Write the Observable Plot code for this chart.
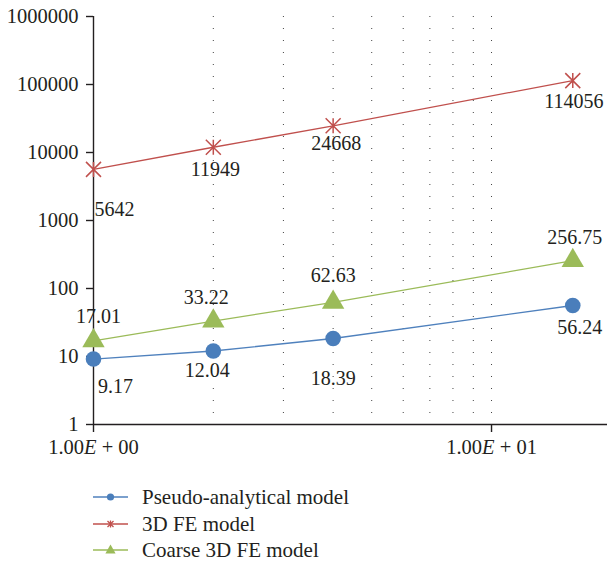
<!DOCTYPE html>
<html>
<head>
<meta charset="utf-8">
<script src="https://cdn.jsdelivr.net/npm/d3@7"></script>
<script src="https://cdn.jsdelivr.net/npm/@observablehq/plot@0.6"></script>
<style>
  html, body { margin: 0; padding: 0; background: #fff; }
  #wrap { position: relative; width: 607px; height: 562px; font-family: "Liberation Serif", serif; color: #231f20; }
  #chart svg, #chart svg text { font-family: "Liberation Serif", serif !important; }
  #legend { position: absolute; left: 93px; top: 484px; font-size: 21px; line-height: 26.5px; }
  #legend .row { display: flex; align-items: center; height: 26.5px; }
  #legend svg { margin-right: 13px; }
</style>
</head>
<body>
<div id="wrap"><div id="chart"></div><div id="legend"></div></div>
<script>
// ---- data ----
const xValues = [1, 2, 4, 16];
const pseudoValues = [9.17, 12.04, 18.39, 56.24];
const feValues = [5642, 11949, 24668, 114056];
const coarseValues = [17.01, 33.22, 62.63, 256.75];
const seriesNames = ["Pseudo-analytical model", "3D FE model", "Coarse 3D FE model"];
const yTicks = [1, 10, 100, 1000, 10000, 100000, 1000000];
const xTicks = [1, 10];
const xTickLabels = ["1.00E + 00", "1.00E + 01"];
const gridTicks = [2, 3, 4, 5, 6, 7, 8, 9, 10];

// ---- layout (label offsets in px, hand placed like the original) ----
const pseudoOffsets = [[22, 28], [-6, 20], [0, 40], [7, 22]];
const feOffsets = [[21, 40], [2, 22], [3, 18], [1, 21]];
const coarseOffsets = [[5, -24], [-7, -23], [0, -27], [2, -23]];

const colors = { pseudo: "#4f81bd", fe: "#c0504d", coarse: "#9bbb59" };
const pseudoFill = "#4a7ebb";
const serif = "'Liberation Serif', serif";

const asterisk = {
  draw(context, size) {
    const s = Math.sqrt(size / Math.PI);
    context.moveTo(-s, -s); context.lineTo(s, s);
    context.moveTo(-s, s); context.lineTo(s, -s);
    context.moveTo(0, -s); context.lineTo(0, s);
  }
};

const toRows = (vals) => xValues.map((x, i) => ({ x, y: vals[i] }));
const pseudo = toRows(pseudoValues);
const fe = toRows(feValues);
const coarse = toRows(coarseValues);

const fontSize = 20;
const labelMarks = [];
[[pseudo, pseudoOffsets], [fe, feOffsets], [coarse, coarseOffsets]].forEach(([rows, offs]) => {
  rows.forEach((d, i) => {
    labelMarks.push(Plot.text([d], {
      x: "x", y: "y", text: (r) => String(r.y),
      dx: offs[i][0], dy: offs[i][1],
      fontSize, fontFamily: serif, fill: "#231f20"
    }));
  });
});

const chart = Plot.plot({
  width: 607,
  height: 470,
  marginLeft: 93,
  marginRight: 0,
  marginTop: 16,
  marginBottom: 46,
  style: { fontFamily: serif, color: "#231f20", background: "#fff" },
  x: { type: "log", domain: [1, 19.56] },
  y: { type: "log", domain: [1, 1000000] },
  marks: [
    Plot.gridX(gridTicks, { stroke: "#444", strokeOpacity: 1, strokeWidth: 1, strokeDasharray: "1,11" }),
    Plot.ruleX([1], { stroke: "#231f20", strokeWidth: 1.4 }),
    Plot.ruleY([1], { stroke: "#231f20", strokeWidth: 1.4 }),
    Plot.axisY(yTicks, {
      tickFormat: (d) => String(d), tickSize: 7, tickPadding: 8,
      fontSize: 20.5, fontFamily: serif, stroke: "#231f20", strokeWidth: 1.4, label: null
    }),
    Plot.axisX(xTicks, {
      tickFormat: (d) => xTickLabels[xTicks.indexOf(d)], tickSize: 8, tickPadding: 7,
      fontSize: 20.5, fontFamily: serif, stroke: "#231f20", strokeWidth: 1.4, label: null
    }),
    Plot.line(pseudo, { x: "x", y: "y", stroke: colors.pseudo, strokeWidth: 1.3 }),
    Plot.line(fe, { x: "x", y: "y", stroke: colors.fe, strokeWidth: 1.3 }),
    Plot.line(coarse, { x: "x", y: "y", stroke: colors.coarse, strokeWidth: 1.3 }),
    Plot.dot(pseudo, { x: "x", y: "y", r: 7.8, fill: pseudoFill, stroke: "none" }),
    Plot.dot(coarse, { x: "x", y: "y", r: 8.3, symbol: "triangle", fill: colors.coarse, stroke: "none" }),
    Plot.dot(fe, { x: "x", y: "y", r: 7.5, symbol: asterisk, fill: "none", stroke: colors.fe, strokeWidth: 1.5 }),
    ...labelMarks
  ]
});
document.getElementById("chart").appendChild(chart);

// italic E in x tick labels
d3.select(chart).selectAll('g[aria-label="x-axis tick label"] text').each(function () {
  const t = this.textContent;
  const parts = t.split("E");
  if (parts.length === 2) {
    const sel = d3.select(this);
    sel.text(null);
    sel.append("tspan").text(parts[0]);
    sel.append("tspan").attr("font-style", "italic").text("E");
    sel.append("tspan").text(parts[1]);
  }
});

// legend
const legend = d3.select("#legend");
const legendItems = [
  { name: seriesNames[0], color: colors.pseudo, kind: "circle" },
  { name: seriesNames[1], color: colors.fe, kind: "asterisk" },
  { name: seriesNames[2], color: colors.coarse, kind: "triangle" }
];
legendItems.forEach((it) => {
  const row = legend.append("div").attr("class", "row");
  const s = row.append("svg").attr("width", 36).attr("height", 14);
  s.append("line").attr("x1", 0).attr("x2", 35).attr("y1", 7).attr("y2", 7)
    .attr("stroke", it.color).attr("stroke-width", 1.5);
  if (it.kind === "circle") {
    s.append("circle").attr("cx", 17.5).attr("cy", 7).attr("r", 3.6).attr("fill", pseudoFill);
  } else if (it.kind === "triangle") {
    s.append("path").attr("d", d3.symbol(d3.symbolTriangle, 45)()).attr("transform", "translate(17.5,7.5)").attr("fill", it.color);
  } else {
    s.append("path").attr("d", "M-3,-3L3,3M-3,3L3,-3M0,-3.5L0,3.5").attr("transform", "translate(17.5,7)")
      .attr("stroke", it.color).attr("stroke-width", 1.3).attr("fill", "none");
  }
  row.append("span").text(it.name);
});
</script>
</body>
</html>
